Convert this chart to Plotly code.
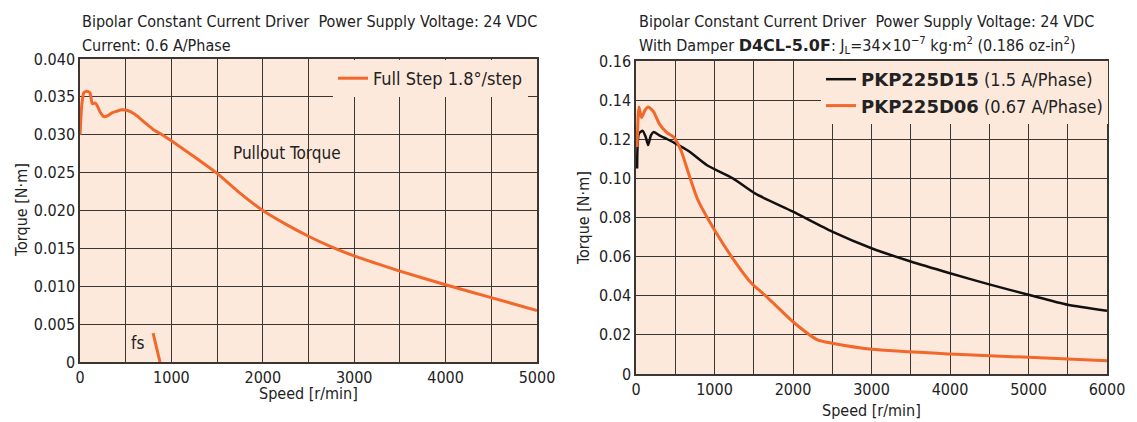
import plotly.graph_objects as go

# ---------------- data ----------------
left_speed = [0, 20, 40, 60, 90, 110, 135, 165, 190, 220, 260, 300, 350, 400, 460, 520,
              600, 700, 800, 900, 1000, 1250, 1500, 1750, 2000, 2250, 2500, 2750, 3000,
              3500, 4000, 4500, 5000]
left_torque = [0.0300, 0.0340, 0.0355, 0.0357, 0.0357, 0.0355, 0.0341, 0.0342, 0.0338,
               0.0330, 0.0324, 0.0325, 0.0329, 0.0331, 0.0333, 0.0332, 0.0327, 0.0317,
               0.0307, 0.0300, 0.0292, 0.0271, 0.0249, 0.0223, 0.0200, 0.0182, 0.0166,
               0.0152, 0.0140, 0.0120, 0.0102, 0.0085, 0.0068]
fs_speed = [800, 875]
fs_torque = [0.0038, 0.0]

d15_speed = [14, 38, 85, 125, 155, 190, 225, 295, 400, 506, 670, 905, 1234, 1515, 2000,
             2500, 3000, 3500, 4000, 4500, 5000, 5500, 6000]
d15_torque = [0.105, 0.123, 0.1243, 0.121, 0.117, 0.122, 0.1237, 0.122, 0.120, 0.1178,
              0.114, 0.1067, 0.100, 0.0923, 0.083, 0.0728, 0.0643, 0.0575, 0.0515,
              0.0458, 0.0405, 0.0354, 0.0323]

d06_speed = [14, 38, 70, 117, 155, 225, 295, 390, 483, 576, 670, 788, 1000, 1234, 1468,
             1656, 2000, 2313, 2500, 3000, 4000, 5000, 6000]
d06_torque = [0.116, 0.1365, 0.131, 0.135, 0.1365, 0.134, 0.128, 0.1235, 0.121, 0.114,
              0.1025, 0.089, 0.0736, 0.059, 0.0465, 0.0398, 0.0267, 0.0174, 0.0157,
              0.0126, 0.0102, 0.0085, 0.0068]

left_yticks = [0, 0.005, 0.010, 0.015, 0.020, 0.025, 0.030, 0.035, 0.040]
left_yticktext = ["0", "0.005", "0.010", "0.015", "0.020", "0.025", "0.030", "0.035", "0.040"]
right_yticks = [0, 0.02, 0.04, 0.06, 0.08, 0.10, 0.12, 0.14, 0.16]
right_yticktext = ["0", "0.02", "0.04", "0.06", "0.08", "0.10", "0.12", "0.14", "0.16"]

# ---------------- style ----------------
W, H = 1137, 422
FONT = "DejaVu Sans Condensed, Liberation Sans Narrow, sans-serif"
FS = 16
ORANGE = "#F2672A"
BG = "#FDE9DC"
GRID = "#3c3632"
TXT = "#222222"
BOLDSPAN = "<span style='font-family:DejaVu Sans;font-weight:bold'>{}</span>"

def px_x(p):
    return p / W

def px_y(p):
    return 1 - p / H

fig = go.Figure()

fig.add_trace(go.Scatter(x=left_speed, y=left_torque, mode="lines",
                         line=dict(color=ORANGE, width=3, shape="spline", smoothing=0.6),
                         name="Full Step 1.8°/step", xaxis="x", yaxis="y", legend="legend"))
fig.add_trace(go.Scatter(x=fs_speed, y=fs_torque, mode="lines", line=dict(color=ORANGE, width=3),
                         showlegend=False, xaxis="x", yaxis="y"))

fig.add_trace(go.Scatter(x=d15_speed, y=d15_torque, mode="lines",
                         line=dict(color="#111111", width=2.5, shape="spline", smoothing=0.6),
                         name="<b>" + BOLDSPAN.format("PKP225D15") + "</b> (1.5 A/Phase)",
                         xaxis="x2", yaxis="y2", legend="legend2"))
fig.add_trace(go.Scatter(x=d06_speed, y=d06_torque, mode="lines",
                         line=dict(color=ORANGE, width=3, shape="spline", smoothing=0.6),
                         name="<b>" + BOLDSPAN.format("PKP225D06") + "</b> (0.67 A/Phase)",
                         xaxis="x2", yaxis="y2", legend="legend2"))

axis_common = dict(showline=True, linecolor=GRID, linewidth=1.5, mirror=True, automargin=False,
                   showgrid=True, gridcolor=GRID, gridwidth=1.3, zeroline=False,
                   ticks="", tickfont=dict(family=FONT, size=FS, color=TXT))

fig.update_layout(
    width=W, height=H, margin=dict(l=0, r=0, t=0, b=0, autoexpand=False),
    paper_bgcolor="white", plot_bgcolor=BG,
    font=dict(family=FONT, size=FS, color=TXT),
    xaxis=dict(domain=[px_x(80), px_x(537)], range=[0, 5000], tickvals=[0, 1000, 2000, 3000, 4000, 5000],
               minor=dict(dtick=500, tick0=0, showgrid=True, gridcolor=GRID, gridwidth=1.3),
               anchor="y", **axis_common),
    yaxis=dict(domain=[px_y(362), px_y(59)], range=[0, 0.040], tickvals=left_yticks, ticktext=left_yticktext,
               anchor="x", **axis_common),
    xaxis2=dict(domain=[px_x(636), px_x(1107)], range=[0, 6000], tickvals=[0, 1000, 2000, 3000, 4000, 5000, 6000],
                minor=dict(dtick=500, tick0=0, showgrid=True, gridcolor=GRID, gridwidth=1.3),
                anchor="y2", **axis_common),
    yaxis2=dict(domain=[px_y(374), px_y(61)], range=[0, 0.16], tickvals=right_yticks, ticktext=right_yticktext,
                anchor="x2", **axis_common),
    legend=dict(x=px_x(528), y=px_y(60), xanchor="right", yanchor="top", bgcolor=BG,
                font=dict(family=FONT, size=18, color=TXT), itemwidth=30, tracegroupgap=0),
    legend2=dict(x=px_x(1108), y=px_y(61), xanchor="right", yanchor="top", bgcolor=BG,
                 font=dict(family=FONT, size=18, color=TXT), itemwidth=30, tracegroupgap=0),
)

annotations = [
    dict(text="Bipolar Constant Current Driver  Power Supply Voltage: 24 VDC", x=px_x(80), y=px_y(22)),
    dict(text="Current: 0.6 A/Phase", x=px_x(80), y=px_y(45)),
    dict(text="Bipolar Constant Current Driver  Power Supply Voltage: 24 VDC", x=px_x(637), y=px_y(22)),
    dict(text="With Damper <b>" + BOLDSPAN.format("D4CL-5.0F") + "</b>: J<sub>L</sub>=34×10<sup>−7</sup> kg·m<sup>2</sup> (0.186 oz-in<sup>2</sup>)",
         x=px_x(637), y=px_y(45)),
]
for a in annotations:
    fig.add_annotation(xref="paper", yref="paper", xanchor="left", yanchor="middle", showarrow=False,
                       font=dict(family=FONT, size=FS, color=TXT), **a)

# axis titles
for txt, x, y, ang in [("Torque [N·m]", 22, 210, -90), ("Speed [r/min]", 308, 393, 0),
                       ("Torque [N·m]", 583, 218, -90), ("Speed [r/min]", 871, 410, 0)]:
    fig.add_annotation(xref="paper", yref="paper", x=px_x(x), y=px_y(y), text=txt, textangle=ang,
                       xanchor="center", yanchor="middle", showarrow=False,
                       font=dict(family=FONT, size=FS, color=TXT))

fig.add_annotation(xref="x", yref="y", x=2265, y=0.0276, text="Pullout Torque", showarrow=False,
                   font=dict(family=FONT, size=17, color=TXT))
fig.add_annotation(xref="x", yref="y", x=624, y=0.0025, text="fs", showarrow=False,
                   font=dict(family=FONT, size=17, color=TXT))

fig.write_html("out.html")
